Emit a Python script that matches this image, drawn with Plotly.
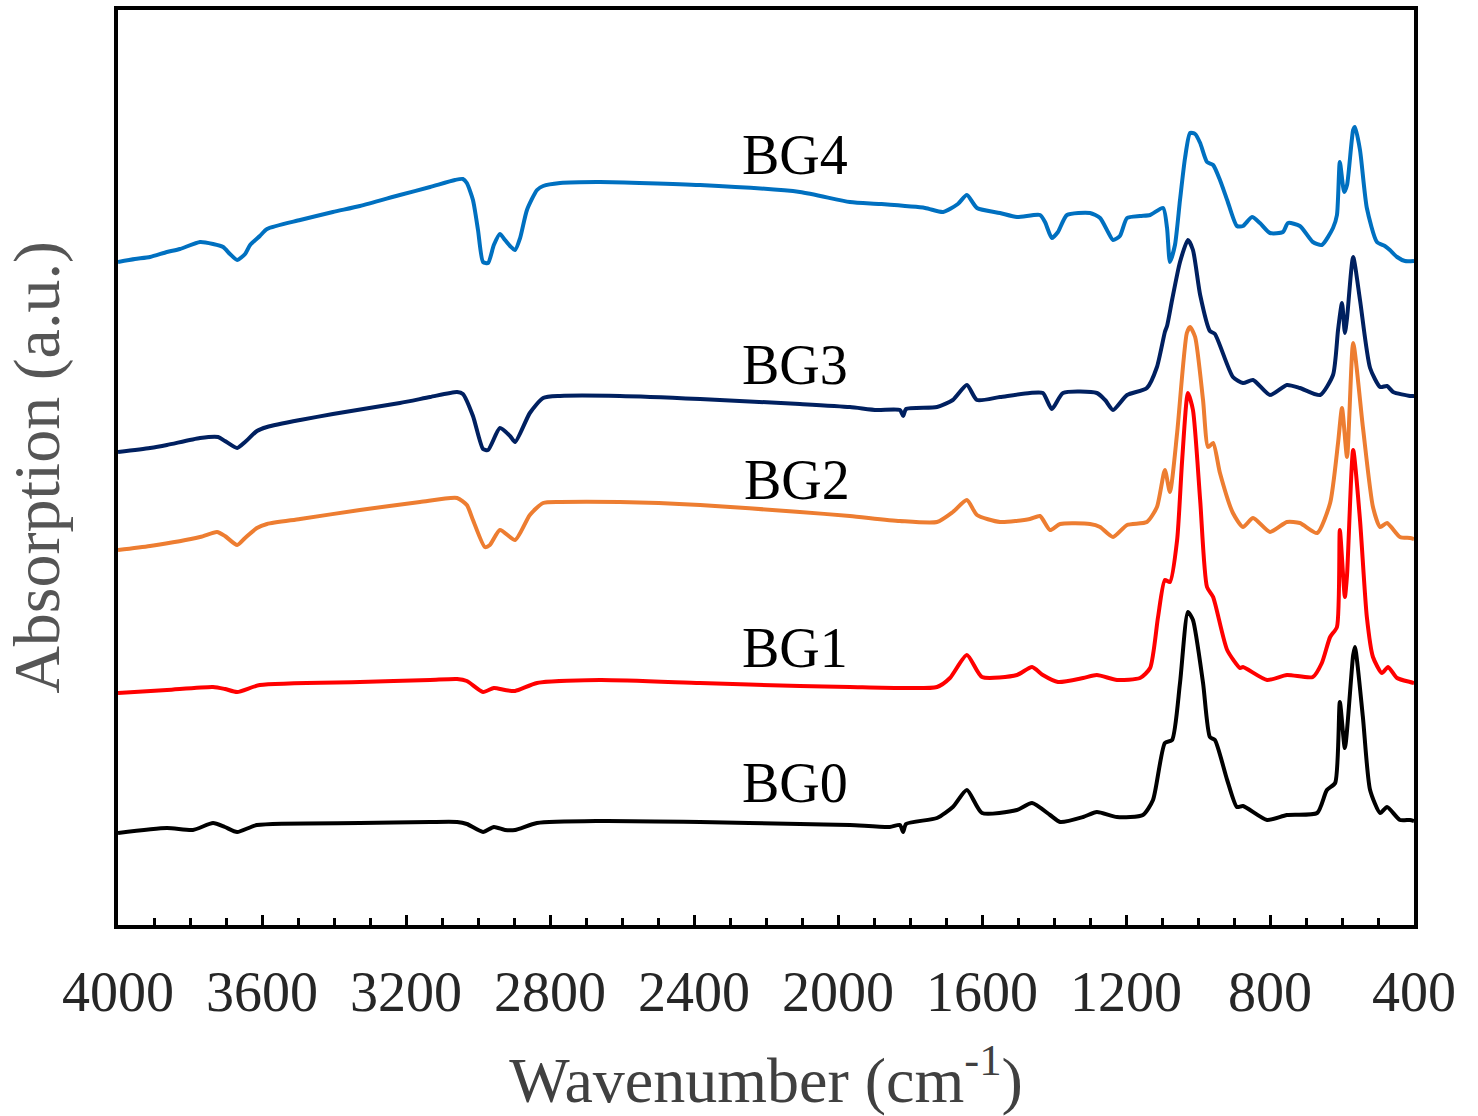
import plotly.graph_objects as go

# ---- data (wavenumber in cm-1, absorption in a.u. offset-stacked) ----
bg4_wn = [4000, 3953, 3911, 3864, 3828, 3772, 3736, 3708, 3689, 3669, 3647, 3633, 3606, 3586, 3494, 3403, 3328, 3217, 3133, 3064, 3042, 3031, 3014, 3000, 2986, 2972, 2956, 2939, 2925, 2911, 2897, 2883, 2864, 2836, 2819, 2772, 2661, 2383, 2106, 1967, 1883, 1758, 1708, 1667, 1642, 1614, 1550, 1503, 1439, 1425, 1406, 1389, 1364, 1300, 1272, 1250, 1236, 1217, 1197, 1161, 1133, 1097, 1086, 1078, 1064, 1050, 1036, 1022, 1008, 994, 975, 958, 939, 919, 892, 875, 850, 828, 800, 764, 750, 717, 681, 656, 625, 614, 606, 594, 586, 569, 564, 550, 531, 503, 481, 467, 447, 425, 400]
bg4_ab = [6.63, 6.66, 6.68, 6.73, 6.76, 6.83, 6.81, 6.78, 6.71, 6.65, 6.71, 6.80, 6.89, 6.96, 7.05, 7.13, 7.19, 7.30, 7.38, 7.45, 7.46, 7.42, 7.25, 6.95, 6.63, 6.62, 6.80, 6.91, 6.85, 6.79, 6.75, 6.87, 7.15, 7.35, 7.39, 7.42, 7.43, 7.40, 7.33, 7.23, 7.21, 7.17, 7.13, 7.21, 7.30, 7.17, 7.12, 7.08, 7.10, 7.03, 6.87, 6.93, 7.10, 7.12, 7.07, 6.93, 6.85, 6.89, 7.07, 7.09, 7.10, 7.17, 6.97, 6.63, 6.80, 7.25, 7.67, 7.92, 7.91, 7.82, 7.63, 7.60, 7.45, 7.25, 6.99, 6.99, 7.08, 7.02, 6.92, 6.93, 7.02, 6.99, 6.83, 6.80, 6.97, 7.10, 7.63, 7.33, 7.40, 7.95, 7.98, 7.75, 7.17, 6.83, 6.79, 6.75, 6.68, 6.64, 6.64]

bg3_wn = [4000, 3911, 3864, 3772, 3722, 3703, 3669, 3647, 3614, 3586, 3494, 3403, 3217, 3133, 3058, 3042, 3014, 2986, 2972, 2939, 2911, 2897, 2856, 2819, 2772, 2606, 2383, 2106, 1967, 1892, 1828, 1819, 1811, 1725, 1681, 1642, 1614, 1550, 1467, 1431, 1406, 1375, 1281, 1258, 1236, 1197, 1142, 1114, 1092, 1086, 1072, 1050, 1028, 1014, 994, 967, 953, 903, 875, 847, 800, 753, 717, 661, 625, 611, 600, 592, 586, 569, 550, 522, 494, 475, 458, 411, 400]
bg3_ab = [4.73, 4.77, 4.80, 4.87, 4.88, 4.84, 4.77, 4.83, 4.94, 4.98, 5.05, 5.11, 5.22, 5.28, 5.33, 5.31, 5.09, 4.76, 4.75, 4.97, 4.89, 4.83, 5.12, 5.27, 5.29, 5.29, 5.26, 5.21, 5.18, 5.15, 5.15, 5.09, 5.16, 5.18, 5.25, 5.40, 5.25, 5.28, 5.32, 5.32, 5.16, 5.32, 5.32, 5.25, 5.15, 5.30, 5.37, 5.58, 5.93, 5.99, 6.25, 6.63, 6.85, 6.75, 6.30, 5.94, 5.91, 5.48, 5.42, 5.45, 5.30, 5.40, 5.37, 5.30, 5.50, 5.95, 6.22, 5.92, 6.07, 6.68, 6.25, 5.57, 5.38, 5.39, 5.33, 5.29, 5.29]

bg2_wn = [4000, 3911, 3772, 3725, 3703, 3669, 3647, 3614, 3586, 3494, 3328, 3161, 3058, 3031, 3014, 2981, 2967, 2939, 2897, 2856, 2819, 2772, 2606, 2383, 2106, 1967, 1828, 1725, 1681, 1642, 1614, 1550, 1467, 1439, 1411, 1383, 1300, 1272, 1236, 1197, 1142, 1114, 1092, 1078, 1058, 1031, 1022, 1008, 986, 972, 958, 939, 903, 875, 847, 800, 753, 717, 669, 633, 611, 600, 586, 569, 542, 514, 494, 475, 439, 411, 400]
bg2_ab = [3.75, 3.79, 3.88, 3.93, 3.89, 3.80, 3.87, 3.97, 4.01, 4.06, 4.15, 4.23, 4.27, 4.20, 4.05, 3.78, 3.80, 3.95, 3.85, 4.10, 4.22, 4.23, 4.23, 4.20, 4.13, 4.09, 4.04, 4.03, 4.13, 4.25, 4.10, 4.03, 4.06, 4.09, 3.95, 4.01, 4.01, 3.98, 3.88, 4.00, 4.03, 4.18, 4.55, 4.33, 4.92, 5.92, 5.98, 5.88, 5.25, 4.78, 4.82, 4.52, 4.12, 3.98, 4.07, 3.93, 4.03, 4.02, 3.92, 4.22, 4.82, 5.17, 4.68, 5.82, 4.98, 4.18, 3.98, 4.02, 3.88, 3.87, 3.86]

bg1_wn = [4000, 3864, 3736, 3703, 3669, 3606, 3328, 3133, 3058, 3031, 2986, 2956, 2925, 2897, 2836, 2661, 2383, 2106, 1967, 1828, 1725, 1689, 1642, 1600, 1503, 1461, 1431, 1389, 1319, 1281, 1225, 1161, 1133, 1111, 1092, 1078, 1058, 1044, 1028, 1014, 994, 975, 958, 919, 883, 875, 808, 753, 681, 656, 633, 614, 606, 592, 586, 569, 550, 531, 514, 489, 472, 447, 411, 400]
bg1_ab = [2.32, 2.35, 2.38, 2.36, 2.33, 2.40, 2.43, 2.45, 2.46, 2.44, 2.33, 2.37, 2.35, 2.34, 2.42, 2.45, 2.42, 2.39, 2.38, 2.37, 2.38, 2.47, 2.70, 2.48, 2.50, 2.58, 2.50, 2.43, 2.47, 2.50, 2.45, 2.47, 2.57, 3.08, 3.45, 3.43, 3.85, 4.65, 5.32, 5.15, 4.25, 3.38, 3.28, 2.75, 2.57, 2.58, 2.45, 2.50, 2.48, 2.62, 2.88, 2.98, 3.95, 3.28, 3.50, 4.75, 4.05, 3.08, 2.68, 2.52, 2.58, 2.47, 2.43, 2.42]

bg0_wn = [4000, 3864, 3792, 3736, 3703, 3669, 3614, 3328, 3133, 3058, 3031, 2986, 2956, 2925, 2897, 2836, 2661, 2383, 2106, 1967, 1856, 1828, 1819, 1811, 1725, 1681, 1642, 1600, 1503, 1461, 1411, 1383, 1319, 1281, 1225, 1153, 1125, 1092, 1072, 1050, 1028, 1014, 986, 967, 953, 919, 892, 875, 808, 753, 669, 642, 619, 606, 592, 569, 564, 542, 522, 494, 475, 439, 411, 400]
bg0_ab = [0.92, 0.97, 0.95, 1.02, 0.98, 0.93, 1.00, 1.02, 1.03, 1.03, 1.01, 0.93, 0.98, 0.95, 0.95, 1.02, 1.04, 1.03, 1.01, 1.00, 0.98, 1.00, 0.93, 1.01, 1.07, 1.18, 1.35, 1.12, 1.15, 1.22, 1.10, 1.03, 1.08, 1.13, 1.08, 1.10, 1.25, 1.82, 1.85, 2.42, 3.13, 3.05, 2.42, 1.88, 1.85, 1.45, 1.18, 1.19, 1.05, 1.10, 1.12, 1.35, 1.42, 2.23, 1.77, 2.70, 2.78, 2.08, 1.35, 1.12, 1.18, 1.05, 1.05, 1.04]

series_names = ["BG0", "BG1", "BG2", "BG3", "BG4"]
series_colors = ["#000000", "#ff0000", "#ed7d31", "#002060", "#0070c0"]
label_wn = [2119, 2119, 2114, 2119, 2119]
label_ab = [1.42, 2.77, 4.45, 5.60, 7.70]

x_ticks = [4000, 3600, 3200, 2800, 2400, 2000, 1600, 1200, 800, 400]

series = [(bg0_wn, bg0_ab), (bg1_wn, bg1_ab), (bg2_wn, bg2_ab), (bg3_wn, bg3_ab), (bg4_wn, bg4_ab)]

SERIF = "Liberation Serif, DejaVu Serif, serif"

fig = go.Figure()
for (wn, ab), name, col in zip(series, series_names, series_colors):
    fig.add_trace(go.Scatter(x=wn, y=ab, mode="lines", name=name,
                             line=dict(color=col, width=4, shape="spline", smoothing=0.6),
                             showlegend=False))

for name, lx, ly in zip(series_names, label_wn, label_ab):
    fig.add_annotation(x=lx, y=ly, xref="x", yref="y", text=name, showarrow=False,
                       xanchor="center", yanchor="middle",
                       font=dict(family=SERIF, size=56, color="#000000"))

fig.update_layout(
    width=1478, height=1116,
    margin=dict(l=118, r=64, t=10, b=191, autoexpand=False),
    paper_bgcolor="white", plot_bgcolor="white",
    font=dict(family=SERIF),
)
fig.update_xaxes(
    range=[4000, 400], tickvals=x_ticks, ticktext=[str(v) for v in x_ticks],
    ticks="inside", ticklen=10, tickwidth=3, tickcolor="black",
    minor=dict(dtick=100, tick0=400, ticks="inside", ticklen=7, tickwidth=3, tickcolor="black"),
    showline=True, linecolor="black", linewidth=4, mirror=True,
    showgrid=False, zeroline=False, automargin=False,
    tickfont=dict(family=SERIF, size=56, color="#262626"),
    ticklabelstandoff=15,
    title=dict(text="Wavenumber (cm<sup>-1</sup>)", font=dict(family=SERIF, size=64, color="#404040"), standoff=36),
)
fig.update_yaxes(
    range=[0, 9.15], showticklabels=False, ticks="",
    showline=True, linecolor="black", linewidth=4, mirror=True,
    showgrid=False, zeroline=False, automargin=False,
    title=dict(text="Absorption (a.u.)", font=dict(family=SERIF, size=66, color="#555555"), standoff=45),
)

fig.write_html("out.html")
